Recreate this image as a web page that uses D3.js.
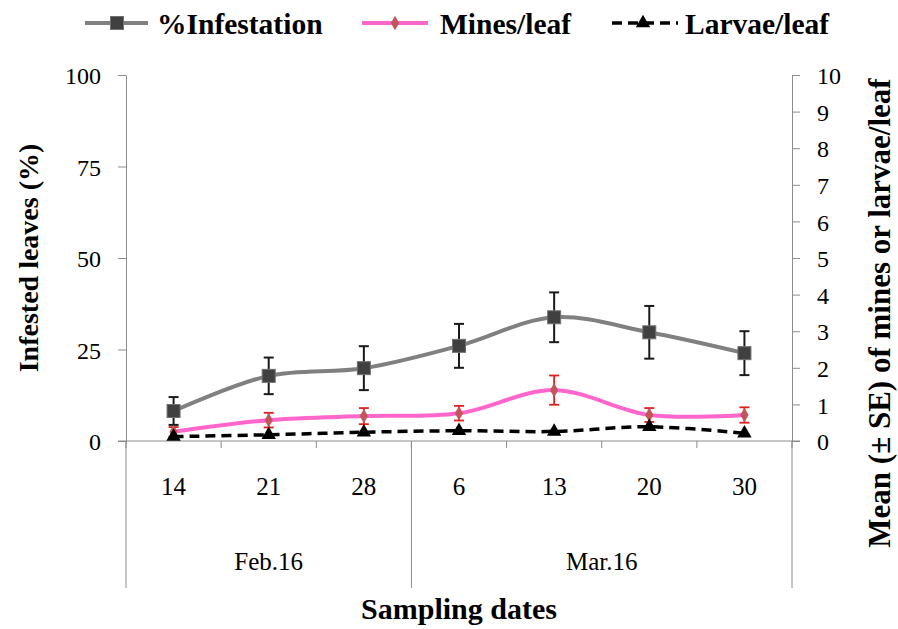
<!DOCTYPE html>
<html>
<head>
<meta charset="utf-8">
<script src="https://cdn.jsdelivr.net/npm/d3@7/dist/d3.min.js"></script>
<style>
  body { margin: 0; background: #fff; }
  svg text { fill: #000; }
  .bold { font-weight: bold; }
</style>
</head>
<body>
<svg id="chart"></svg>
<script>
const width = 898;
const height = 629;
const margin = { top: 75, right: 106, bottom: 188, left: 126 };

// sampling dates (day of month) and the month they belong to
const dates = ["14", "21", "28", "6", "13", "20", "30"];
const months = ["Feb.16", "Feb.16", "Feb.16", "Mar.16", "Mar.16", "Mar.16", "Mar.16"];

// % infested leaves (left axis) with SE
const infestation = [8.2, 17.8, 19.9, 26, 33.8, 29.7, 24];
const infestationSE = [3.8, 5, 6, 6, 6.8, 7.2, 6];

// mines per leaf and larvae per leaf (right axis)
const mines = [0.25, 0.57, 0.68, 0.76, 1.39, 0.71, 0.71];
const minesSE = [0.13, 0.2, 0.22, 0.2, 0.4, 0.19, 0.21];
const larvae = [0.12, 0.17, 0.24, 0.28, 0.26, 0.39, 0.21];

const leftTicks = [0, 25, 50, 75, 100];
const rightTicks = [0, 1, 2, 3, 4, 5, 6, 7, 8, 9, 10];

const axisColor = "#8c8c8c";
const font = '"Liberation Serif", "Liberation Sans", Arial, sans-serif';

const svg = d3.select("#chart").attr("width", width).attr("height", height);

const x = d3
  .scaleBand()
  .domain(d3.range(dates.length))
  .range([margin.left, width - margin.right])
  .padding(0);
const cx = (i) => x(i) + x.bandwidth() / 2;
const yL = d3.scaleLinear().domain([0, 100]).range([height - margin.bottom, margin.top]);
const yR = d3.scaleLinear().domain([0, 10]).range([height - margin.bottom, margin.top]);
const y0 = yL(0);

// axes
svg
  .append("g")
  .attr("transform", `translate(${margin.left},0)`)
  .call(d3.axisLeft(yL).tickValues(leftTicks).tickSize(8).tickSizeOuter(0).tickPadding(17))
  .call((g) => g.selectAll("line,path").attr("stroke", axisColor));
svg
  .append("g")
  .attr("transform", `translate(${width - margin.right},0)`)
  .call(d3.axisRight(yR).tickValues(rightTicks).tickSize(8).tickSizeOuter(0).tickPadding(17))
  .call((g) => g.selectAll("line,path").attr("stroke", axisColor));
svg.selectAll(".tick text").attr("font-size", 24).attr("dy", "0.36em");

// category axis
const xAxis = svg.append("g").attr("stroke", axisColor).attr("fill", "none");
xAxis
  .append("line")
  .attr("x1", margin.left - 8)
  .attr("x2", width - margin.right + 8)
  .attr("y1", y0)
  .attr("y2", y0);
const bounds = d3.range(dates.length + 1).map((i) =>
  i < dates.length ? x(i) : x(dates.length - 1) + x.bandwidth(),
);
xAxis
  .selectAll("line.tk")
  .data(bounds)
  .join("line")
  .attr("class", "tk")
  .attr("x1", (d) => d)
  .attr("x2", (d) => d)
  .attr("y1", y0)
  .attr("y2", y0 + 7);

// month groups
const monthGroups = d3.groups(
  dates.map((d, i) => ({ i, m: months[i] })),
  (d) => d.m,
);
const sepX = [bounds[0]];
monthGroups.forEach(([, rows]) => sepX.push(x(rows.at(-1).i) + x.bandwidth()));
xAxis
  .selectAll("line.sep")
  .data(sepX)
  .join("line")
  .attr("class", "sep")
  .attr("x1", (d) => d)
  .attr("x2", (d) => d)
  .attr("y1", y0)
  .attr("y2", 588);

svg
  .append("g")
  .selectAll("text")
  .data(dates)
  .join("text")
  .attr("x", (d, i) => cx(i))
  .attr("y", 495)
  .attr("text-anchor", "middle")
  .attr("font-size", 25)
  .text((d) => d);

svg
  .append("g")
  .selectAll("text")
  .data(monthGroups)
  .join("text")
  .attr("x", ([, rows]) => (x(rows[0].i) + x(rows.at(-1).i) + x.bandwidth()) / 2)
  .attr("y", 570)
  .attr("text-anchor", "middle")
  .attr("font-size", 25)
  .text(([m]) => m);

// axis titles
svg
  .append("text")
  .attr("class", "bold")
  .attr("x", (margin.left + width - margin.right) / 2)
  .attr("y", 619)
  .attr("text-anchor", "middle")
  .attr("font-size", 30)
  .text("Sampling dates");
svg
  .append("text")
  .attr("class", "bold")
  .attr("transform", `translate(38,${(margin.top + y0) / 2}) rotate(-90)`)
  .attr("text-anchor", "middle")
  .attr("font-size", 28)
  .text("Infested leaves (%)");
svg
  .append("text")
  .attr("class", "bold")
  .attr("transform", `translate(890,313) rotate(-90)`)
  .attr("text-anchor", "middle")
  .attr("font-size", 31)
  .text("Mean (± SE) of mines or larvae/leaf");

// series
const curve = d3.curveCatmullRom.alpha(0.5);
const plot = svg.append("g");

function errorBars(g, vals, se, y, color, w) {
  const eb = g.append("g").attr("stroke", color).attr("stroke-width", w);
  vals.forEach((v, i) => {
    const top = y(v + se[i]);
    const bot = y(v - se[i]);
    eb.append("line").attr("x1", cx(i)).attr("x2", cx(i)).attr("y1", top).attr("y2", bot);
    eb.append("line").attr("x1", cx(i) - 5).attr("x2", cx(i) + 5).attr("y1", top).attr("y2", top);
    eb.append("line").attr("x1", cx(i) - 5).attr("x2", cx(i) + 5).attr("y1", bot).attr("y2", bot);
  });
}

// %Infestation
plot
  .append("path")
  .datum(infestation)
  .attr("fill", "none")
  .attr("stroke", "#808080")
  .attr("stroke-width", 4)
  .attr("d", d3.line().x((d, i) => cx(i)).y((d) => yL(d)).curve(curve));
errorBars(plot, infestation, infestationSE, yL, "#1a1a1a", 2);
plot
  .append("g")
  .selectAll("rect")
  .data(infestation)
  .join("rect")
  .attr("x", (d, i) => cx(i) - 6.5)
  .attr("y", (d) => yL(d) - 6.5)
  .attr("width", 13)
  .attr("height", 13)
  .attr("fill", "#404040")
  .attr("stroke", "#707070")
  .attr("stroke-width", 1);

// Mines/leaf
plot
  .append("path")
  .datum(mines)
  .attr("fill", "none")
  .attr("stroke", "#ff66cc")
  .attr("stroke-width", 4)
  .attr("d", d3.line().x((d, i) => cx(i)).y((d) => yR(d)).curve(curve));
errorBars(plot, mines, minesSE, yR, "#e0201c", 1.8);
plot
  .append("g")
  .selectAll("path")
  .data(mines)
  .join("path")
  .attr("transform", (d, i) => `translate(${cx(i)},${yR(d)})`)
  .attr("d", d3.symbol(d3.symbolDiamond, 60))
  .attr("fill", "#c0575a");

// Larvae/leaf
plot
  .append("path")
  .datum(larvae)
  .attr("fill", "none")
  .attr("stroke", "#000")
  .attr("stroke-width", 3.5)
  .attr("stroke-dasharray", "10,6")
  .attr("d", d3.line().x((d, i) => cx(i)).y((d) => yR(d)).curve(curve));
plot
  .append("g")
  .selectAll("path")
  .data(larvae)
  .join("path")
  .attr("transform", (d, i) => `translate(${cx(i)},${yR(d)})`)
  .attr("d", d3.symbol(d3.symbolTriangle, 90))
  .attr("fill", "#000");

// legend
const lg = svg.append("g").attr("transform", "translate(0,23)");
lg.append("line").attr("x1", 85).attr("x2", 148).attr("stroke", "#808080").attr("stroke-width", 4);
lg.append("rect").attr("x", 110.5).attr("y", -6.5).attr("width", 13).attr("height", 13).attr("fill", "#404040").attr("stroke", "#707070");
lg.append("line").attr("x1", 362).attr("x2", 428).attr("stroke", "#ff66cc").attr("stroke-width", 4);
lg.append("path").attr("transform", "translate(395,0)").attr("d", d3.symbol(d3.symbolDiamond, 60)).attr("fill", "#c0575a");
lg.append("line").attr("x1", 612).attr("x2", 678).attr("stroke", "#000").attr("stroke-width", 3.5).attr("stroke-dasharray", "10,6");
lg.append("path").attr("transform", "translate(643,0)").attr("d", d3.symbol(d3.symbolTriangle, 90)).attr("fill", "#000");
[["%Infestation", 157], ["Mines/leaf", 440], ["Larvae/leaf", 685]].forEach(([t, px]) => {
  lg.append("text").attr("class", "bold").attr("x", px).attr("y", 11).attr("font-size", 29.5).text(t);
});
svg.selectAll("text").attr("font-family", font);
</script>
</body>
</html>
